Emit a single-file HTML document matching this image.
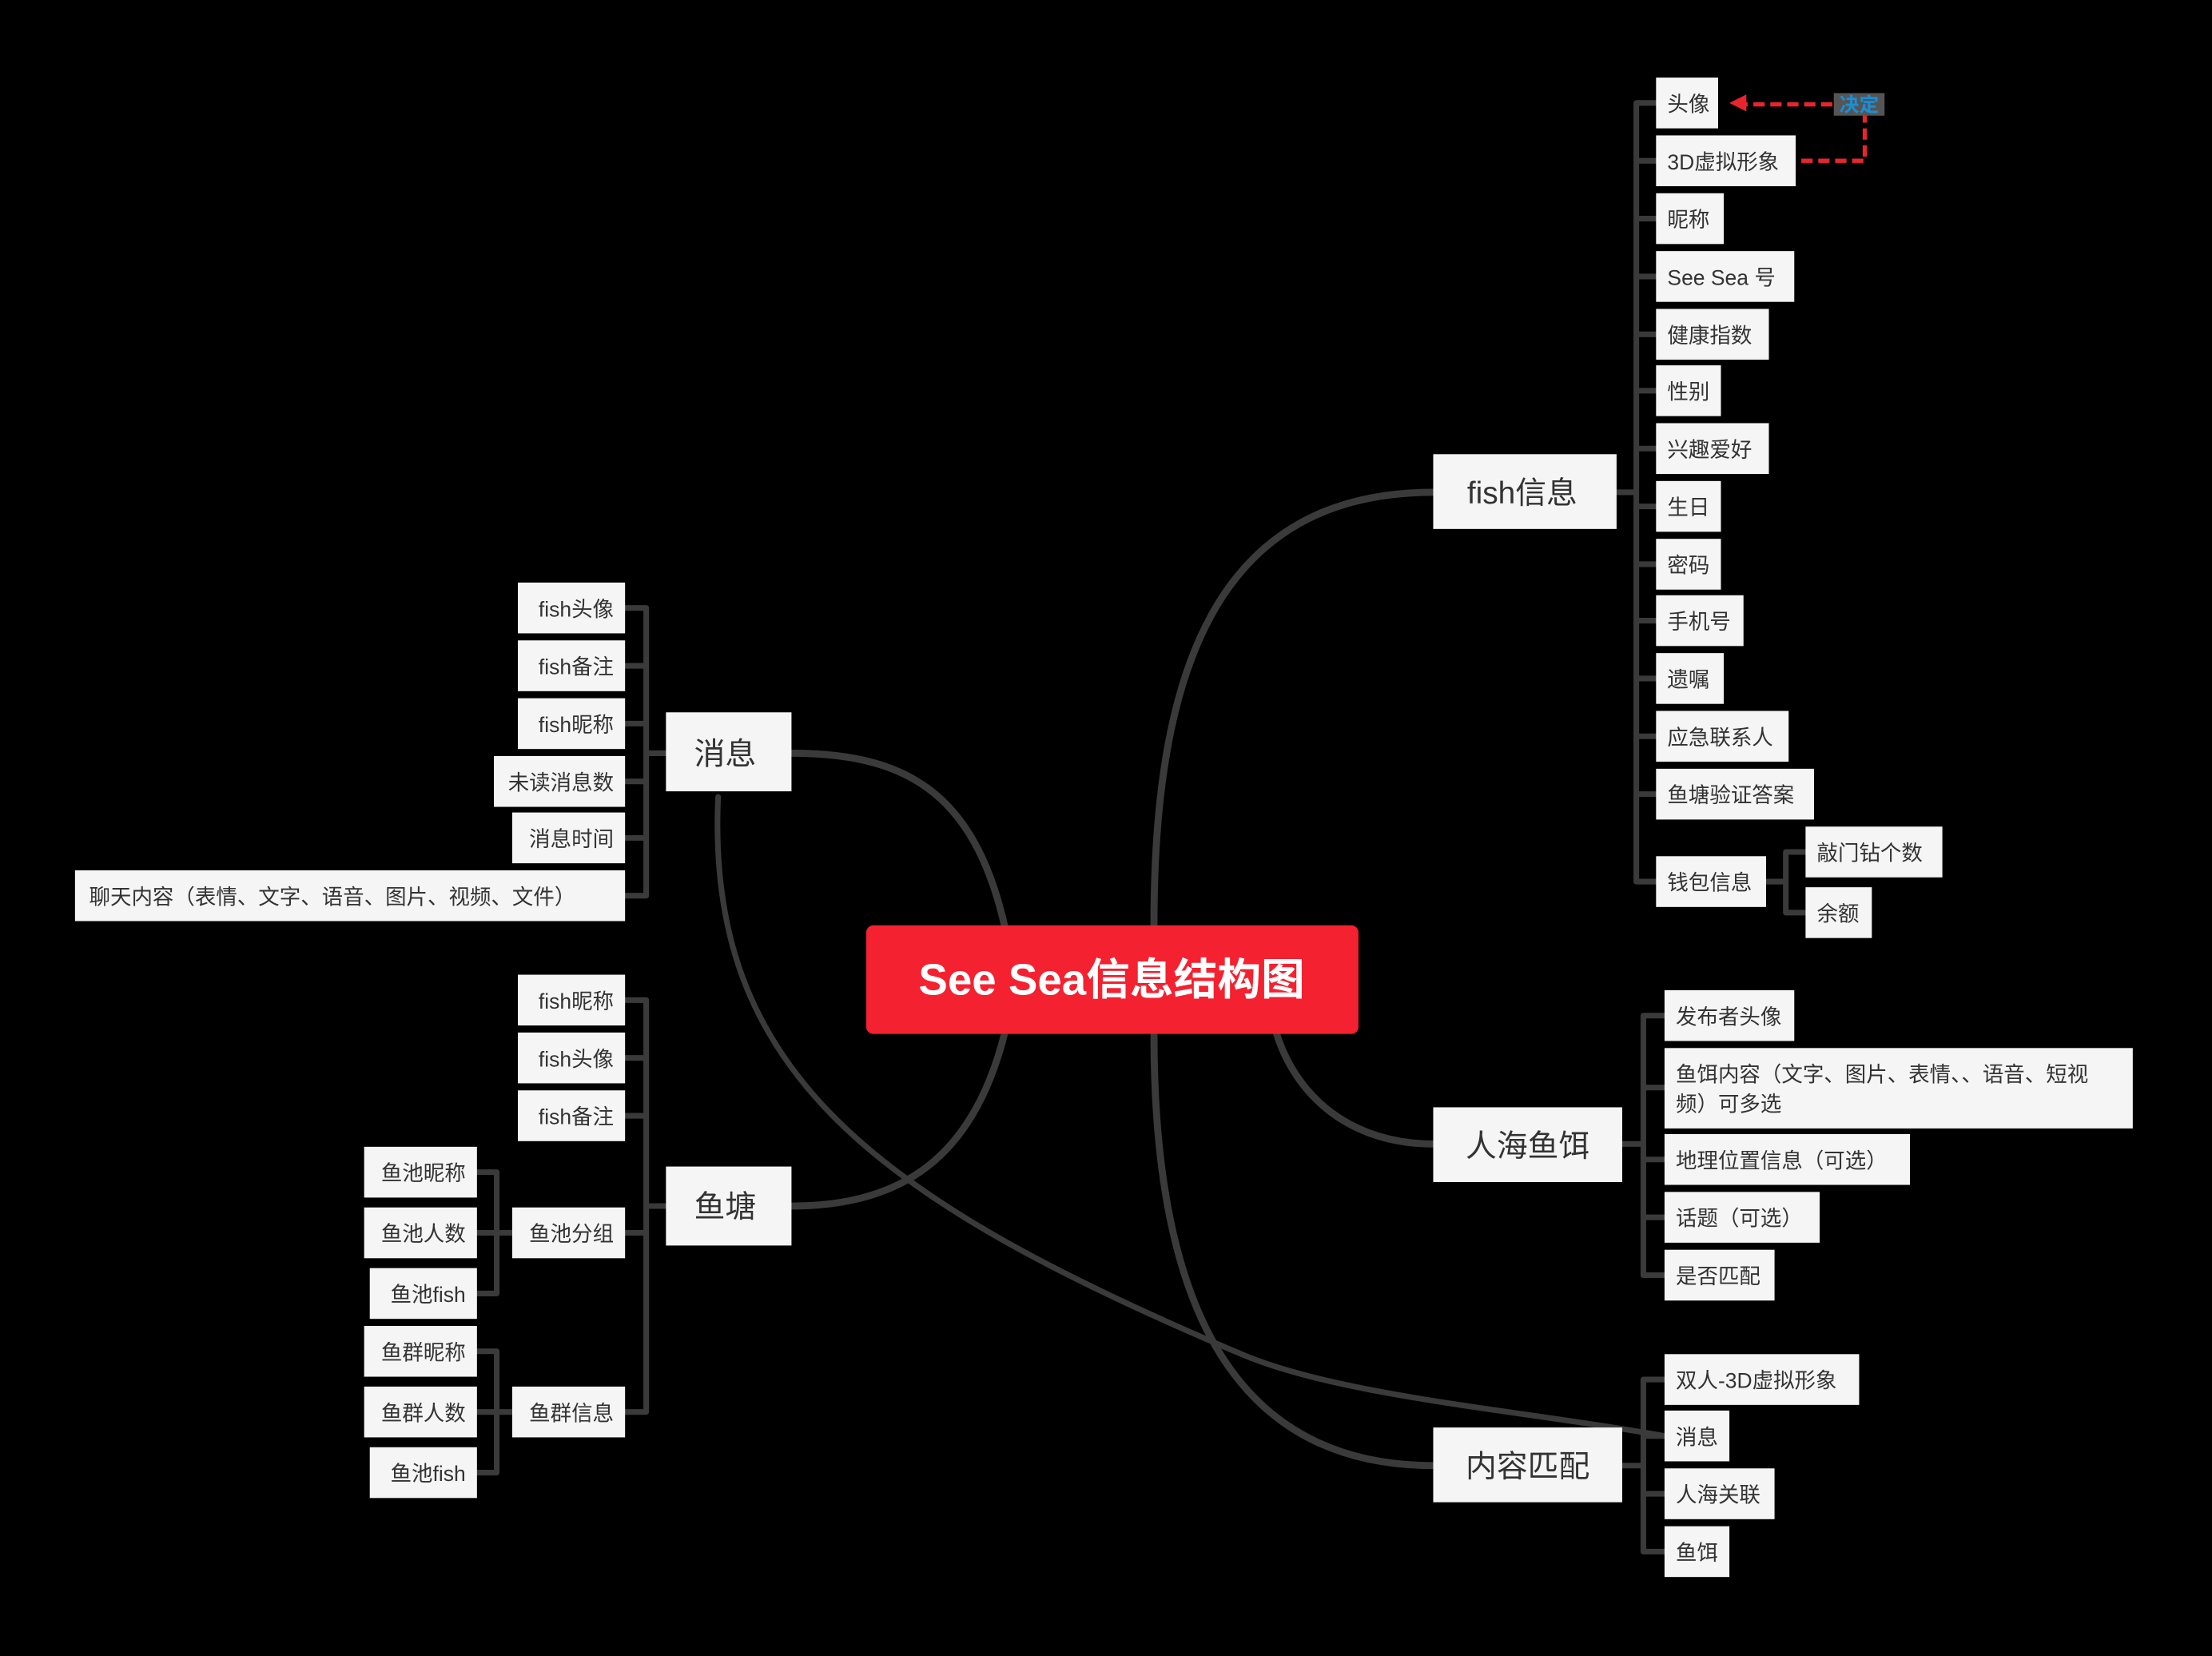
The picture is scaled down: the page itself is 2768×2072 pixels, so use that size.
<!DOCTYPE html>
<html><head><meta charset="utf-8"><style>
html,body{margin:0;padding:0;background:#000;}
svg{display:block;}
text{font-family:"Liberation Sans","Noto Sans CJK SC",sans-serif;fill:#333;}
.s{font-size:15px;}
.m{font-size:22px;}
.b{fill:#f5f5f5;}
.ln{fill:none;stroke:#3a3a3a;stroke-width:4;stroke-linecap:round;stroke-linejoin:round;}
.cv{fill:none;stroke:#3a3a3a;stroke-width:5;stroke-linecap:round;}
</style></head><body>
<svg width="2768" height="2072" viewBox="0 0 1568 1174" xmlns="http://www.w3.org/2000/svg">
<rect width="1568" height="1174" fill="#000"/>

<!-- main curves -->
<path class="cv" d="M818,656 C818,480 860,349 1016,349"/>
<path class="cv" d="M712,656 C690,560 640,534 561,534"/>
<path class="cv" d="M712,733 C690,820 640,855 561,855"/>
<path class="cv" d="M818,733 C818,900 860,1039 1016,1039"/>
<path class="cv" d="M905,733 C920,780 960,811 1016,811"/>
<!-- relation line 消息 -> 内容匹配/消息 -->
<path class="cv" style="stroke-width:4" d="M509,565 C500,760 620,850 880,960 C950,990 1080,1000 1180,1018"/>

<!-- fish信息 bracket -->
<path class="ln" d="M1146,349 H1160 M1160,73 V625 M1160,73 H1174 M1160,114 H1174 M1160,155 H1174 M1160,196 H1174 M1160,237 H1174 M1160,277 H1174 M1160,318 H1174 M1160,359 H1174 M1160,400 H1174 M1160,440 H1174 M1160,481 H1174 M1160,522 H1174 M1160,563 H1174 M1160,625 H1174"/>
<path class="ln" d="M1252,625 H1266 M1266,604 V647 M1266,604 H1280 M1266,647 H1280"/>
<!-- 人海鱼饵 bracket -->
<path class="ln" d="M1150,811 H1165 M1165,720 V904 M1165,720 H1180 M1165,771 H1180 M1165,822 H1180 M1165,863 H1180 M1165,904 H1180"/>
<!-- 内容匹配 bracket -->
<path class="ln" d="M1150,1039 H1165 M1165,978 V1100 M1165,978 H1180 M1165,1018 H1180 M1165,1059 H1180 M1165,1100 H1180"/>
<!-- 消息 bracket -->
<path class="ln" d="M472,534 H458 M458,431 V635 M458,431 H443 M458,472 H443 M458,513 H443 M458,554 H443 M458,594 H443 M458,635 H443"/>
<!-- 鱼塘 bracket -->
<path class="ln" d="M472,855 H458 M458,709 V1001 M458,709 H443 M458,750 H443 M458,791 H443 M458,874 H443 M458,1001 H443"/>
<path class="ln" d="M363,874 H352 M352,831 V917 M352,831 H338 M352,874 H338 M352,917 H338"/>
<path class="ln" d="M363,1001 H352 M352,958 V1044 M352,958 H338 M352,1001 H338 M352,1044 H338"/>

<!-- center -->
<rect x="614" y="656" width="349" height="77" rx="5" fill="#f42130"/>
<text x="788" y="705" text-anchor="middle" style="font-size:31px;font-weight:bold;fill:#fff">See Sea信息结构图</text>

<!-- main nodes -->
<rect class="b" x="1016" y="322" width="130" height="53"/><text class="m" x="1040" y="357">fish信息</text>
<rect class="b" x="1016" y="785" width="134" height="53"/><text class="m" x="1039" y="820">人海鱼饵</text>
<rect class="b" x="1016" y="1012" width="134" height="53"/><text class="m" x="1039" y="1047">内容匹配</text>
<rect class="b" x="472" y="505" width="89" height="56"/><text class="m" x="492" y="542">消息</text>
<rect class="b" x="472" y="827" width="89" height="56"/><text class="m" x="492" y="863">鱼塘</text>

<!-- fish信息 children -->
<g class="s">
<rect class="b" x="1174" y="55" width="44" height="36"/><text class="s" x="1182" y="79">头像</text>
<rect class="b" x="1174" y="96" width="99" height="36"/><text class="s" x="1182" y="120">3D虚拟形象</text>
<rect class="b" x="1174" y="137" width="48" height="36"/><text class="s" x="1182" y="161">昵称</text>
<rect class="b" x="1174" y="178" width="98" height="36"/><text class="s" x="1182" y="202">See Sea 号</text>
<rect class="b" x="1174" y="219" width="80" height="36"/><text class="s" x="1182" y="243">健康指数</text>
<rect class="b" x="1174" y="259" width="46" height="36"/><text class="s" x="1182" y="283">性别</text>
<rect class="b" x="1174" y="300" width="80" height="36"/><text class="s" x="1182" y="324">兴趣爱好</text>
<rect class="b" x="1174" y="341" width="46" height="36"/><text class="s" x="1182" y="365">生日</text>
<rect class="b" x="1174" y="382" width="46" height="36"/><text class="s" x="1182" y="406">密码</text>
<rect class="b" x="1174" y="422" width="62" height="36"/><text class="s" x="1182" y="446">手机号</text>
<rect class="b" x="1174" y="463" width="48" height="36"/><text class="s" x="1182" y="487">遗嘱</text>
<rect class="b" x="1174" y="504" width="94" height="36"/><text class="s" x="1182" y="528">应急联系人</text>
<rect class="b" x="1174" y="545" width="112" height="36"/><text class="s" x="1182" y="569">鱼塘验证答案</text>
<rect class="b" x="1174" y="607" width="78" height="36"/><text class="s" x="1182" y="631">钱包信息</text>
<rect class="b" x="1280" y="586" width="97" height="36"/><text class="s" x="1288" y="610">敲门钻个数</text>
<rect class="b" x="1280" y="629" width="47" height="36"/><text class="s" x="1288" y="653">余额</text>

<!-- 人海鱼饵 children -->
<rect class="b" x="1180" y="702" width="92" height="36"/><text class="s" x="1188" y="726">发布者头像</text>
<rect class="b" x="1180" y="743" width="332" height="57"/><text class="s" x="1188" y="767">鱼饵内容（文字、图片、表情、、语音、短视</text><text class="s" x="1188" y="788">频）可多选</text>
<rect class="b" x="1180" y="804" width="174" height="36"/><text class="s" x="1188" y="828">地理位置信息（可选）</text>
<rect class="b" x="1180" y="845" width="110" height="36"/><text class="s" x="1188" y="869">话题（可选）</text>
<rect class="b" x="1180" y="886" width="78" height="36"/><text class="s" x="1188" y="910">是否匹配</text>

<!-- 内容匹配 children -->
<rect class="b" x="1180" y="960" width="138" height="36"/><text class="s" x="1188" y="984">双人-3D虚拟形象</text>
<rect class="b" x="1180" y="1000" width="46" height="36"/><text class="s" x="1188" y="1024">消息</text>
<rect class="b" x="1180" y="1041" width="78" height="36"/><text class="s" x="1188" y="1065">人海关联</text>
<rect class="b" x="1180" y="1082" width="46" height="36"/><text class="s" x="1188" y="1106">鱼饵</text>

<!-- 消息 children -->
<rect class="b" x="367" y="413" width="76" height="36"/><text class="s" x="435" y="437" text-anchor="end">fish头像</text>
<rect class="b" x="367" y="454" width="76" height="36"/><text class="s" x="435" y="478" text-anchor="end">fish备注</text>
<rect class="b" x="367" y="495" width="76" height="36"/><text class="s" x="435" y="519" text-anchor="end">fish昵称</text>
<rect class="b" x="350" y="536" width="93" height="36"/><text class="s" x="435" y="560" text-anchor="end">未读消息数</text>
<rect class="b" x="363" y="576" width="80" height="36"/><text class="s" x="435" y="600" text-anchor="end">消息时间</text>
<rect class="b" x="53" y="617" width="390" height="36"/><text class="s" x="63" y="641">聊天内容（表情、文字、语音、图片、视频、文件）</text>

<!-- 鱼塘 children -->
<rect class="b" x="367" y="691" width="76" height="36"/><text class="s" x="435" y="715" text-anchor="end">fish昵称</text>
<rect class="b" x="367" y="732" width="76" height="36"/><text class="s" x="435" y="756" text-anchor="end">fish头像</text>
<rect class="b" x="367" y="773" width="76" height="36"/><text class="s" x="435" y="797" text-anchor="end">fish备注</text>
<rect class="b" x="363" y="856" width="80" height="36"/><text class="s" x="435" y="880" text-anchor="end">鱼池分组</text>
<rect class="b" x="363" y="983" width="80" height="36"/><text class="s" x="435" y="1007" text-anchor="end">鱼群信息</text>
<rect class="b" x="258" y="813" width="80" height="36"/><text class="s" x="330" y="837" text-anchor="end">鱼池昵称</text>
<rect class="b" x="258" y="856" width="80" height="36"/><text class="s" x="330" y="880" text-anchor="end">鱼池人数</text>
<rect class="b" x="262" y="899" width="76" height="36"/><text class="s" x="330" y="923" text-anchor="end">鱼池fish</text>
<rect class="b" x="258" y="940" width="80" height="36"/><text class="s" x="330" y="964" text-anchor="end">鱼群昵称</text>
<rect class="b" x="258" y="983" width="80" height="36"/><text class="s" x="330" y="1007" text-anchor="end">鱼群人数</text>
<rect class="b" x="262" y="1026" width="76" height="36"/><text class="s" x="330" y="1050" text-anchor="end">鱼池fish</text>
</g>

<!-- red dashed relation -->
<path d="M1277,114 H1322 V74 H1236" fill="none" stroke="#e8252e" stroke-width="3" stroke-dasharray="8,4"/>
<polygon points="1226,73 1238,67 1238,79" fill="#e8252e"/>
<rect x="1300" y="66" width="36" height="16" fill="#555"/>
<text x="1318" y="79" text-anchor="middle" style="font-size:14px;font-weight:bold;fill:#1a8fd8">决定</text>
</svg>
</body></html>
